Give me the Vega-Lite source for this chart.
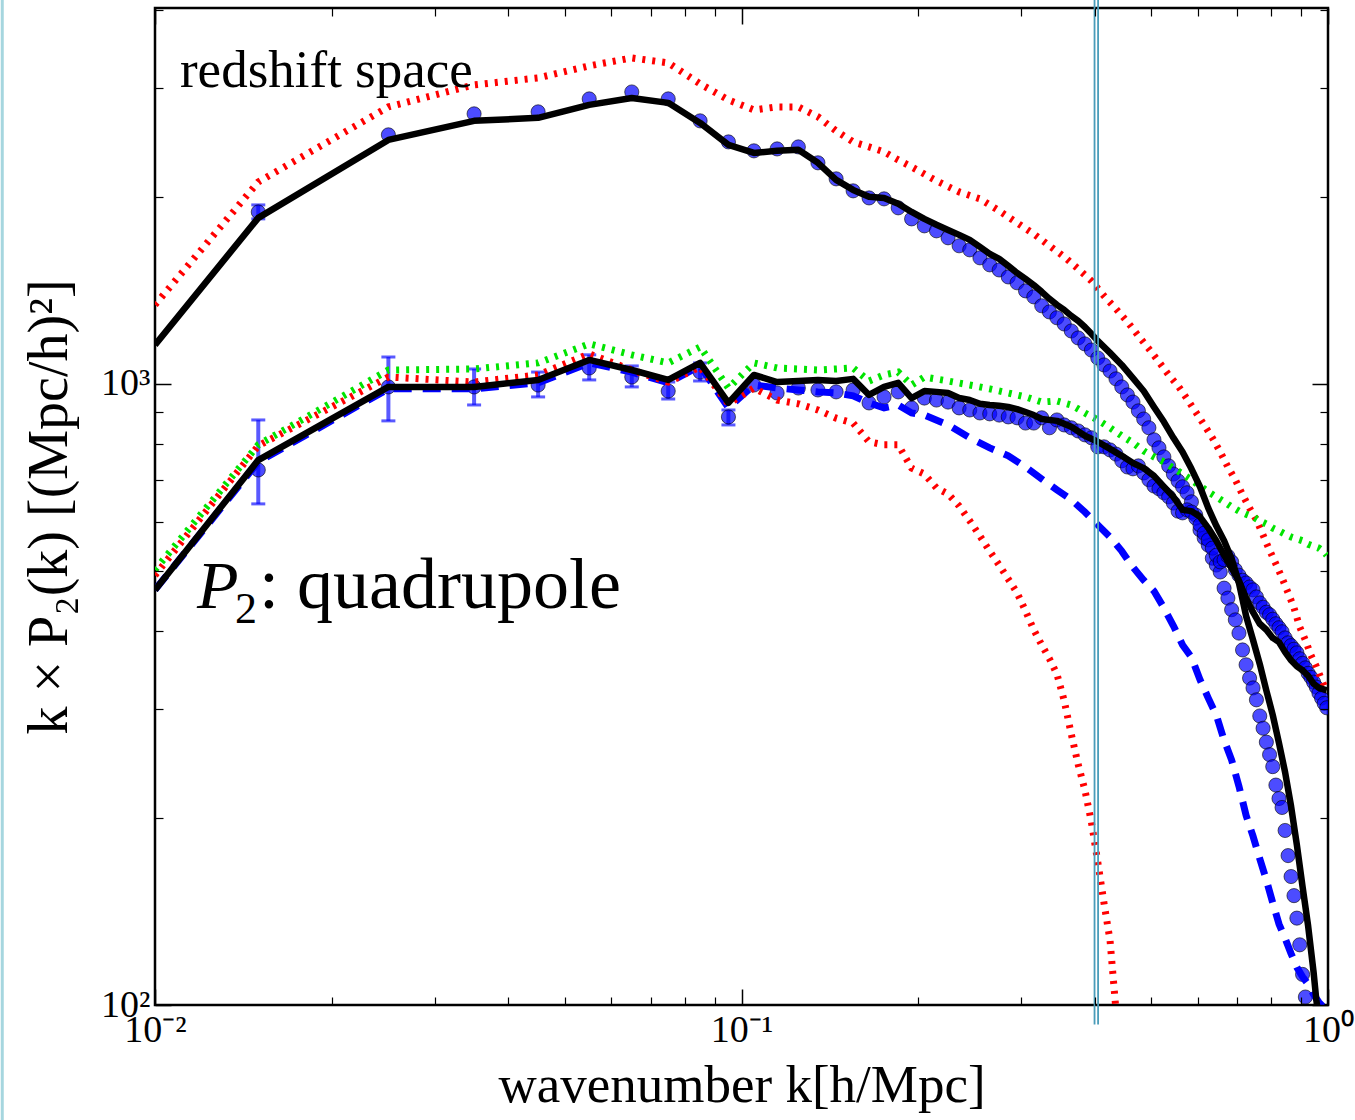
{
"$schema": "https://vega.github.io/schema/vega-lite/v6.json",
"width": 1173, "height": 997,
"padding": {"left": 155, "top": 8, "right": 27, "bottom": 115},
"autosize": {"type": "none"},
"background": "white",
"config": {"view": {"stroke": "black", "strokeWidth": 2.5}},
"datasets": {
"pts": [
{"group":"upper","k":0.015,"v":1892},{"group":"upper","k":0.025,"v":2518},{"group":"upper","k":0.035,"v":2722},{"group":"upper","k":0.045,"v":2742},{"group":"upper","k":0.055,"v":2877},{"group":"upper","k":0.065,"v":2952},{"group":"upper","k":0.075,"v":2877},{"group":"upper","k":0.085,"v":2652},{"group":"upper","k":0.095,"v":2453},{"group":"upper","k":0.105,"v":2373},{"group":"upper","k":0.115,"v":2390},{"group":"upper","k":0.125,"v":2408},{"group":"upper","k":0.135,"v":2270},{"group":"upper","k":0.145,"v":2139},{"group":"upper","k":0.155,"v":2046},{"group":"upper","k":0.165,"v":1993},{"group":"upper","k":0.175,"v":1986},{"group":"upper","k":0.185,"v":1921},{"group":"upper","k":0.195,"v":1844},{"group":"upper","k":0.205,"v":1797},{"group":"upper","k":0.215,"v":1764},{"group":"upper","k":0.225,"v":1719},{"group":"upper","k":0.235,"v":1669},{"group":"upper","k":0.245,"v":1644},{"group":"upper","k":0.255,"v":1596},{"group":"upper","k":0.265,"v":1555},{"group":"upper","k":0.275,"v":1526},{"group":"upper","k":0.285,"v":1487},{"group":"upper","k":0.295,"v":1455},{"group":"upper","k":0.305,"v":1412},{"group":"upper","k":0.315,"v":1381},{"group":"upper","k":0.325,"v":1336},{"group":"upper","k":0.335,"v":1306},{"group":"upper","k":0.345,"v":1278},{"group":"upper","k":0.355,"v":1249},{"group":"upper","k":0.365,"v":1217},{"group":"upper","k":0.375,"v":1186},{"group":"upper","k":0.385,"v":1160},{"group":"upper","k":0.395,"v":1134},{"group":"upper","k":0.405,"v":1101},{"group":"upper","k":0.415,"v":1073},{"group":"upper","k":0.425,"v":1049},{"group":"upper","k":0.435,"v":1019},{"group":"upper","k":0.445,"v":989},{"group":"upper","k":0.455,"v":960},{"group":"upper","k":0.465,"v":935},{"group":"upper","k":0.475,"v":905},{"group":"upper","k":0.485,"v":878},{"group":"upper","k":0.495,"v":850},{"group":"upper","k":0.505,"v":813},{"group":"upper","k":0.515,"v":789},{"group":"upper","k":0.525,"v":763},{"group":"upper","k":0.535,"v":738},{"group":"upper","k":0.545,"v":716},{"group":"upper","k":0.555,"v":698},{"group":"upper","k":0.565,"v":683},{"group":"upper","k":0.575,"v":668},{"group":"upper","k":0.585,"v":646},{"group":"upper","k":0.595,"v":615},{"group":"upper","k":0.605,"v":582},{"group":"upper","k":0.615,"v":565},{"group":"upper","k":0.625,"v":550},{"group":"upper","k":0.635,"v":524},{"group":"upper","k":0.645,"v":511},{"group":"upper","k":0.655,"v":498},{"group":"upper","k":0.665,"v":469},{"group":"upper","k":0.675,"v":452},{"group":"upper","k":0.685,"v":433},{"group":"upper","k":0.695,"v":417},{"group":"upper","k":0.705,"v":397},{"group":"upper","k":0.715,"v":373},{"group":"upper","k":0.725,"v":353},{"group":"upper","k":0.735,"v":336},{"group":"upper","k":0.745,"v":324},{"group":"upper","k":0.755,"v":310},{"group":"upper","k":0.765,"v":292},{"group":"upper","k":0.775,"v":279},{"group":"upper","k":0.785,"v":265},{"group":"upper","k":0.795,"v":253},{"group":"upper","k":0.805,"v":242},{"group":"upper","k":0.815,"v":226},{"group":"upper","k":0.825,"v":215},{"group":"upper","k":0.835,"v":208},{"group":"upper","k":0.845,"v":191},{"group":"upper","k":0.855,"v":174},{"group":"upper","k":0.865,"v":161},{"group":"upper","k":0.875,"v":150},{"group":"upper","k":0.885,"v":138},{"group":"upper","k":0.895,"v":125},{"group":"upper","k":0.905,"v":112},{"group":"upper","k":0.915,"v":103},
{"group":"lower","k":0.015,"v":727},{"group":"lower","k":0.025,"v":989},{"group":"lower","k":0.035,"v":989},{"group":"lower","k":0.045,"v":996},{"group":"lower","k":0.055,"v":1061},{"group":"lower","k":0.065,"v":1026},{"group":"lower","k":0.075,"v":974},{"group":"lower","k":0.085,"v":1045},{"group":"lower","k":0.095,"v":885},{"group":"lower","k":0.105,"v":996},{"group":"lower","k":0.115,"v":967},{"group":"lower","k":0.125,"v":985},{"group":"lower","k":0.135,"v":978},{"group":"lower","k":0.145,"v":971},{"group":"lower","k":0.155,"v":978},{"group":"lower","k":0.165,"v":932},{"group":"lower","k":0.175,"v":953},{"group":"lower","k":0.185,"v":971},{"group":"lower","k":0.195,"v":915},{"group":"lower","k":0.205,"v":949},{"group":"lower","k":0.215,"v":942},{"group":"lower","k":0.225,"v":935},{"group":"lower","k":0.235,"v":915},{"group":"lower","k":0.245,"v":908},{"group":"lower","k":0.255,"v":898},{"group":"lower","k":0.265,"v":895},{"group":"lower","k":0.275,"v":891},{"group":"lower","k":0.285,"v":885},{"group":"lower","k":0.295,"v":882},{"group":"lower","k":0.305,"v":865},{"group":"lower","k":0.315,"v":865},{"group":"lower","k":0.325,"v":882},{"group":"lower","k":0.335,"v":850},{"group":"lower","k":0.345,"v":875},{"group":"lower","k":0.355,"v":859},{"group":"lower","k":0.365,"v":850},{"group":"lower","k":0.375,"v":840},{"group":"lower","k":0.385,"v":828},{"group":"lower","k":0.395,"v":819},{"group":"lower","k":0.405,"v":792},{"group":"lower","k":0.415,"v":792},{"group":"lower","k":0.425,"v":783},{"group":"lower","k":0.435,"v":771},{"group":"lower","k":0.445,"v":752},{"group":"lower","k":0.455,"v":735},{"group":"lower","k":0.465,"v":730},{"group":"lower","k":0.475,"v":738},{"group":"lower","k":0.485,"v":719},{"group":"lower","k":0.495,"v":701},{"group":"lower","k":0.505,"v":685},{"group":"lower","k":0.515,"v":678},{"group":"lower","k":0.525,"v":668},{"group":"lower","k":0.535,"v":658},{"group":"lower","k":0.545,"v":643},{"group":"lower","k":0.555,"v":624},{"group":"lower","k":0.565,"v":620},{"group":"lower","k":0.575,"v":627},{"group":"lower","k":0.585,"v":622},{"group":"lower","k":0.595,"v":608},{"group":"lower","k":0.605,"v":593},{"group":"lower","k":0.615,"v":575},{"group":"lower","k":0.625,"v":561},{"group":"lower","k":0.635,"v":544},{"group":"lower","k":0.645,"v":530},{"group":"lower","k":0.655,"v":517},{"group":"lower","k":0.665,"v":521},{"group":"lower","k":0.675,"v":528},{"group":"lower","k":0.685,"v":517},{"group":"lower","k":0.695,"v":502},{"group":"lower","k":0.705,"v":492},{"group":"lower","k":0.715,"v":483},{"group":"lower","k":0.725,"v":478},{"group":"lower","k":0.735,"v":471},{"group":"lower","k":0.745,"v":466},{"group":"lower","k":0.755,"v":454},{"group":"lower","k":0.765,"v":444},{"group":"lower","k":0.775,"v":437},{"group":"lower","k":0.785,"v":429},{"group":"lower","k":0.795,"v":425},{"group":"lower","k":0.805,"v":418},{"group":"lower","k":0.815,"v":411},{"group":"lower","k":0.825,"v":405},{"group":"lower","k":0.835,"v":399},{"group":"lower","k":0.845,"v":390},{"group":"lower","k":0.855,"v":383},{"group":"lower","k":0.865,"v":379},{"group":"lower","k":0.875,"v":374},{"group":"lower","k":0.885,"v":369},{"group":"lower","k":0.895,"v":361},{"group":"lower","k":0.905,"v":355},{"group":"lower","k":0.915,"v":349},{"group":"lower","k":0.925,"v":342},{"group":"lower","k":0.935,"v":337},{"group":"lower","k":0.945,"v":331},{"group":"lower","k":0.955,"v":325},{"group":"lower","k":0.965,"v":318},{"group":"lower","k":0.975,"v":312},{"group":"lower","k":0.985,"v":306},{"group":"lower","k":0.995,"v":301}
],
"err": [
{"k":0.015,"lo":1844,"hi":1942},
{"k":0.015,"lo":641,"hi":875},{"k":0.025,"lo":872,"hi":1105},{"k":0.035,"lo":925,"hi":1057},{"k":0.045,"lo":953,"hi":1045},{"k":0.055,"lo":1015,"hi":1114},{"k":0.065,"lo":989,"hi":1069},{"k":0.075,"lo":946,"hi":1007},{"k":0.085,"lo":1011,"hi":1081},{"k":0.095,"lo":859,"hi":908}
],
"lines": [
{"s":"upper_red","k":0.01,"v":1341},{"s":"upper_red","k":0.015,"v":2115},{"s":"upper_red","k":0.025,"v":2793},{"s":"upper_red","k":0.035,"v":3030},{"s":"upper_red","k":0.045,"v":3110},{"s":"upper_red","k":0.055,"v":3252},{"s":"upper_red","k":0.065,"v":3349},{"s":"upper_red","k":0.075,"v":3288},{"s":"upper_red","k":0.085,"v":3042},{"s":"upper_red","k":0.095,"v":2866},{"s":"upper_red","k":0.105,"v":2762},{"s":"upper_red","k":0.115,"v":2793},{"s":"upper_red","k":0.125,"v":2793},{"s":"upper_red","k":0.135,"v":2692},{"s":"upper_red","k":0.145,"v":2555},{"s":"upper_red","k":0.155,"v":2453},{"s":"upper_red","k":0.165,"v":2408},{"s":"upper_red","k":0.175,"v":2364},{"s":"upper_red","k":0.185,"v":2295},{"s":"upper_red","k":0.195,"v":2236},{"s":"upper_red","k":0.215,"v":2123},{"s":"upper_red","k":0.235,"v":2038},{"s":"upper_red","k":0.255,"v":1986},{"s":"upper_red","k":0.275,"v":1900},{"s":"upper_red","k":0.295,"v":1817},{"s":"upper_red","k":0.315,"v":1744},{"s":"upper_red","k":0.335,"v":1669},{"s":"upper_red","k":0.355,"v":1602},{"s":"upper_red","k":0.375,"v":1532},{"s":"upper_red","k":0.395,"v":1465},{"s":"upper_red","k":0.415,"v":1386},{"s":"upper_red","k":0.435,"v":1321},{"s":"upper_red","k":0.455,"v":1259},{"s":"upper_red","k":0.475,"v":1195},{"s":"upper_red","k":0.495,"v":1139},{"s":"upper_red","k":0.515,"v":1085},{"s":"upper_red","k":0.535,"v":1034},{"s":"upper_red","k":0.555,"v":993},{"s":"upper_red","k":0.575,"v":946},{"s":"upper_red","k":0.595,"v":901},{"s":"upper_red","k":0.615,"v":859},{"s":"upper_red","k":0.635,"v":819},{"s":"upper_red","k":0.655,"v":777},{"s":"upper_red","k":0.675,"v":735},{"s":"upper_red","k":0.695,"v":701},{"s":"upper_red","k":0.715,"v":663},{"s":"upper_red","k":0.735,"v":631},{"s":"upper_red","k":0.755,"v":604},{"s":"upper_red","k":0.775,"v":571},{"s":"upper_red","k":0.795,"v":540},{"s":"upper_red","k":0.815,"v":513},{"s":"upper_red","k":0.835,"v":487},{"s":"upper_red","k":0.855,"v":461},{"s":"upper_red","k":0.875,"v":436},{"s":"upper_red","k":0.895,"v":406},{"s":"upper_red","k":0.915,"v":387},{"s":"upper_red","k":0.935,"v":366},{"s":"upper_red","k":0.955,"v":351},{"s":"upper_red","k":0.975,"v":334},{"s":"upper_red","k":0.995,"v":319},
{"s":"upper_black","k":0.01,"v":1156},{"s":"upper_black","k":0.015,"v":1851},{"s":"upper_black","k":0.025,"v":2471},{"s":"upper_black","k":0.035,"v":2652},{"s":"upper_black","k":0.045,"v":2682},{"s":"upper_black","k":0.055,"v":2814},{"s":"upper_black","k":0.065,"v":2887},{"s":"upper_black","k":0.075,"v":2835},{"s":"upper_black","k":0.085,"v":2632},{"s":"upper_black","k":0.095,"v":2426},{"s":"upper_black","k":0.105,"v":2355},{"s":"upper_black","k":0.115,"v":2373},{"s":"upper_black","k":0.125,"v":2382},{"s":"upper_black","k":0.135,"v":2270},{"s":"upper_black","k":0.145,"v":2131},{"s":"upper_black","k":0.155,"v":2053},{"s":"upper_black","k":0.165,"v":2001},{"s":"upper_black","k":0.175,"v":1993},{"s":"upper_black","k":0.185,"v":1950},{"s":"upper_black","k":0.195,"v":1892},{"s":"upper_black","k":0.205,"v":1844},{"s":"upper_black","k":0.215,"v":1804},{"s":"upper_black","k":0.225,"v":1770},{"s":"upper_black","k":0.235,"v":1738},{"s":"upper_black","k":0.245,"v":1706},{"s":"upper_black","k":0.255,"v":1662},{"s":"upper_black","k":0.265,"v":1620},{"s":"upper_black","k":0.275,"v":1590},{"s":"upper_black","k":0.285,"v":1549},{"s":"upper_black","k":0.295,"v":1509},{"s":"upper_black","k":0.305,"v":1476},{"s":"upper_black","k":0.315,"v":1443},{"s":"upper_black","k":0.325,"v":1407},{"s":"upper_black","k":0.335,"v":1371},{"s":"upper_black","k":0.345,"v":1341},{"s":"upper_black","k":0.355,"v":1316},{"s":"upper_black","k":0.365,"v":1287},{"s":"upper_black","k":0.375,"v":1263},{"s":"upper_black","k":0.385,"v":1235},{"s":"upper_black","k":0.395,"v":1204},{"s":"upper_black","k":0.405,"v":1173},{"s":"upper_black","k":0.425,"v":1122},{"s":"upper_black","k":0.445,"v":1073},{"s":"upper_black","k":0.465,"v":1022},{"s":"upper_black","k":0.485,"v":974},{"s":"upper_black","k":0.505,"v":918},{"s":"upper_black","k":0.525,"v":869},{"s":"upper_black","k":0.545,"v":819},{"s":"upper_black","k":0.565,"v":777},{"s":"upper_black","k":0.585,"v":730},{"s":"upper_black","k":0.605,"v":683},{"s":"upper_black","k":0.625,"v":631},{"s":"upper_black","k":0.645,"v":591},{"s":"upper_black","k":0.665,"v":559},{"s":"upper_black","k":0.685,"v":523},{"s":"upper_black","k":0.705,"v":478},{"s":"upper_black","k":0.725,"v":423},{"s":"upper_black","k":0.745,"v":387},{"s":"upper_black","k":0.765,"v":354},{"s":"upper_black","k":0.785,"v":321},{"s":"upper_black","k":0.805,"v":293},{"s":"upper_black","k":0.825,"v":264},{"s":"upper_black","k":0.845,"v":237},{"s":"upper_black","k":0.865,"v":209},{"s":"upper_black","k":0.885,"v":181},{"s":"upper_black","k":0.905,"v":155},{"s":"upper_black","k":0.925,"v":134},{"s":"upper_black","k":0.945,"v":113},{"s":"upper_black","k":0.955,"v":102},{"s":"upper_black","k":0.965,"v":95},
{"s":"lower_red","k":0.01,"v":492},{"s":"lower_red","k":0.015,"v":795},{"s":"lower_red","k":0.025,"v":1026},{"s":"lower_red","k":0.035,"v":1007},{"s":"lower_red","k":0.045,"v":1034},{"s":"lower_red","k":0.055,"v":1118},{"s":"lower_red","k":0.065,"v":1053},{"s":"lower_red","k":0.075,"v":1007},{"s":"lower_red","k":0.085,"v":1065},{"s":"lower_red","k":0.095,"v":929},{"s":"lower_red","k":0.105,"v":985},{"s":"lower_red","k":0.115,"v":942},{"s":"lower_red","k":0.125,"v":929},{"s":"lower_red","k":0.135,"v":908},{"s":"lower_red","k":0.145,"v":881},{"s":"lower_red","k":0.155,"v":865},{"s":"lower_red","k":0.165,"v":807},{"s":"lower_red","k":0.175,"v":798},{"s":"lower_red","k":0.185,"v":798},{"s":"lower_red","k":0.195,"v":732},{"s":"lower_red","k":0.205,"v":716},{"s":"lower_red","k":0.215,"v":680},{"s":"lower_red","k":0.225,"v":665},{"s":"lower_red","k":0.235,"v":636},{"s":"lower_red","k":0.245,"v":602},{"s":"lower_red","k":0.255,"v":569},{"s":"lower_red","k":0.265,"v":538},{"s":"lower_red","k":0.275,"v":511},{"s":"lower_red","k":0.285,"v":485},{"s":"lower_red","k":0.295,"v":461},{"s":"lower_red","k":0.305,"v":431},{"s":"lower_red","k":0.315,"v":402},{"s":"lower_red","k":0.325,"v":380},{"s":"lower_red","k":0.335,"v":361},{"s":"lower_red","k":0.345,"v":341},{"s":"lower_red","k":0.355,"v":309},{"s":"lower_red","k":0.365,"v":273},{"s":"lower_red","k":0.375,"v":244},{"s":"lower_red","k":0.385,"v":222},{"s":"lower_red","k":0.395,"v":197},{"s":"lower_red","k":0.405,"v":170},{"s":"lower_red","k":0.415,"v":146},{"s":"lower_red","k":0.425,"v":127},{"s":"lower_red","k":0.435,"v":98},
{"s":"lower_green","k":0.01,"v":502},{"s":"lower_green","k":0.015,"v":798},{"s":"lower_green","k":0.025,"v":1053},{"s":"lower_green","k":0.035,"v":1057},{"s":"lower_green","k":0.045,"v":1081},{"s":"lower_green","k":0.055,"v":1160},{"s":"lower_green","k":0.065,"v":1114},{"s":"lower_green","k":0.075,"v":1081},{"s":"lower_green","k":0.085,"v":1147},{"s":"lower_green","k":0.095,"v":985},{"s":"lower_green","k":0.105,"v":1081},{"s":"lower_green","k":0.115,"v":1061},{"s":"lower_green","k":0.125,"v":1057},{"s":"lower_green","k":0.135,"v":1053},{"s":"lower_green","k":0.145,"v":1057},{"s":"lower_green","k":0.155,"v":1061},{"s":"lower_green","k":0.165,"v":1011},{"s":"lower_green","k":0.175,"v":1034},{"s":"lower_green","k":0.185,"v":1045},{"s":"lower_green","k":0.195,"v":996},{"s":"lower_green","k":0.205,"v":1026},{"s":"lower_green","k":0.225,"v":1011},{"s":"lower_green","k":0.245,"v":996},{"s":"lower_green","k":0.265,"v":982},{"s":"lower_green","k":0.285,"v":967},{"s":"lower_green","k":0.305,"v":953},{"s":"lower_green","k":0.325,"v":935},{"s":"lower_green","k":0.345,"v":939},{"s":"lower_green","k":0.365,"v":925},{"s":"lower_green","k":0.385,"v":898},{"s":"lower_green","k":0.405,"v":875},{"s":"lower_green","k":0.425,"v":850},{"s":"lower_green","k":0.445,"v":825},{"s":"lower_green","k":0.465,"v":804},{"s":"lower_green","k":0.485,"v":780},{"s":"lower_green","k":0.505,"v":763},{"s":"lower_green","k":0.525,"v":749},{"s":"lower_green","k":0.545,"v":732},{"s":"lower_green","k":0.565,"v":716},{"s":"lower_green","k":0.585,"v":701},{"s":"lower_green","k":0.605,"v":685},{"s":"lower_green","k":0.625,"v":670},{"s":"lower_green","k":0.645,"v":658},{"s":"lower_green","k":0.665,"v":646},{"s":"lower_green","k":0.685,"v":634},{"s":"lower_green","k":0.705,"v":624},{"s":"lower_green","k":0.725,"v":617},{"s":"lower_green","k":0.745,"v":611},{"s":"lower_green","k":0.765,"v":602},{"s":"lower_green","k":0.785,"v":595},{"s":"lower_green","k":0.805,"v":586},{"s":"lower_green","k":0.825,"v":580},{"s":"lower_green","k":0.845,"v":573},{"s":"lower_green","k":0.865,"v":567},{"s":"lower_green","k":0.885,"v":563},{"s":"lower_green","k":0.905,"v":559},{"s":"lower_green","k":0.925,"v":552},{"s":"lower_green","k":0.945,"v":548},{"s":"lower_green","k":0.965,"v":544},{"s":"lower_green","k":0.985,"v":536},{"s":"lower_green","k":0.995,"v":530},
{"s":"lower_blue","k":0.01,"v":466},{"s":"lower_blue","k":0.015,"v":749},{"s":"lower_blue","k":0.025,"v":982},{"s":"lower_blue","k":0.035,"v":982},{"s":"lower_blue","k":0.045,"v":1004},{"s":"lower_blue","k":0.055,"v":1081},{"s":"lower_blue","k":0.065,"v":1045},{"s":"lower_blue","k":0.075,"v":1004},{"s":"lower_blue","k":0.085,"v":1069},{"s":"lower_blue","k":0.095,"v":915},{"s":"lower_blue","k":0.105,"v":996},{"s":"lower_blue","k":0.115,"v":985},{"s":"lower_blue","k":0.125,"v":978},{"s":"lower_blue","k":0.135,"v":971},{"s":"lower_blue","k":0.145,"v":967},{"s":"lower_blue","k":0.155,"v":957},{"s":"lower_blue","k":0.165,"v":932},{"s":"lower_blue","k":0.175,"v":915},{"s":"lower_blue","k":0.185,"v":925},{"s":"lower_blue","k":0.195,"v":898},{"s":"lower_blue","k":0.205,"v":891},{"s":"lower_blue","k":0.225,"v":859},{"s":"lower_blue","k":0.245,"v":819},{"s":"lower_blue","k":0.265,"v":789},{"s":"lower_blue","k":0.285,"v":766},{"s":"lower_blue","k":0.305,"v":735},{"s":"lower_blue","k":0.325,"v":703},{"s":"lower_blue","k":0.345,"v":675},{"s":"lower_blue","k":0.365,"v":651},{"s":"lower_blue","k":0.385,"v":622},{"s":"lower_blue","k":0.405,"v":593},{"s":"lower_blue","k":0.425,"v":567},{"s":"lower_blue","k":0.445,"v":538},{"s":"lower_blue","k":0.465,"v":507},{"s":"lower_blue","k":0.485,"v":483},{"s":"lower_blue","k":0.505,"v":464},{"s":"lower_blue","k":0.525,"v":436},{"s":"lower_blue","k":0.545,"v":408},{"s":"lower_blue","k":0.565,"v":380},{"s":"lower_blue","k":0.585,"v":363},{"s":"lower_blue","k":0.605,"v":334},{"s":"lower_blue","k":0.625,"v":312},{"s":"lower_blue","k":0.645,"v":293},{"s":"lower_blue","k":0.665,"v":267},{"s":"lower_blue","k":0.685,"v":248},{"s":"lower_blue","k":0.705,"v":225},{"s":"lower_blue","k":0.725,"v":202},{"s":"lower_blue","k":0.745,"v":187},{"s":"lower_blue","k":0.765,"v":172},{"s":"lower_blue","k":0.785,"v":159},{"s":"lower_blue","k":0.805,"v":146},{"s":"lower_blue","k":0.825,"v":135},{"s":"lower_blue","k":0.845,"v":128},{"s":"lower_blue","k":0.865,"v":121},{"s":"lower_blue","k":0.885,"v":115},{"s":"lower_blue","k":0.905,"v":111},{"s":"lower_blue","k":0.925,"v":108},{"s":"lower_blue","k":0.945,"v":104},{"s":"lower_blue","k":0.965,"v":101},{"s":"lower_blue","k":0.985,"v":99},
{"s":"lower_black","k":0.01,"v":466},{"s":"lower_black","k":0.015,"v":754},{"s":"lower_black","k":0.025,"v":989},{"s":"lower_black","k":0.035,"v":989},{"s":"lower_black","k":0.045,"v":1015},{"s":"lower_black","k":0.055,"v":1093},{"s":"lower_black","k":0.065,"v":1053},{"s":"lower_black","k":0.075,"v":1015},{"s":"lower_black","k":0.085,"v":1081},{"s":"lower_black","k":0.095,"v":932},{"s":"lower_black","k":0.105,"v":1034},{"s":"lower_black","k":0.115,"v":1007},{"s":"lower_black","k":0.125,"v":1011},{"s":"lower_black","k":0.135,"v":1015},{"s":"lower_black","k":0.145,"v":1011},{"s":"lower_black","k":0.155,"v":1019},{"s":"lower_black","k":0.165,"v":960},{"s":"lower_black","k":0.175,"v":989},{"s":"lower_black","k":0.185,"v":1004},{"s":"lower_black","k":0.195,"v":949},{"s":"lower_black","k":0.205,"v":974},{"s":"lower_black","k":0.215,"v":971},{"s":"lower_black","k":0.225,"v":967},{"s":"lower_black","k":0.235,"v":949},{"s":"lower_black","k":0.245,"v":942},{"s":"lower_black","k":0.255,"v":929},{"s":"lower_black","k":0.265,"v":925},{"s":"lower_black","k":0.275,"v":922},{"s":"lower_black","k":0.285,"v":918},{"s":"lower_black","k":0.295,"v":911},{"s":"lower_black","k":0.305,"v":901},{"s":"lower_black","k":0.315,"v":891},{"s":"lower_black","k":0.325,"v":878},{"s":"lower_black","k":0.345,"v":872},{"s":"lower_black","k":0.365,"v":853},{"s":"lower_black","k":0.385,"v":825},{"s":"lower_black","k":0.405,"v":807},{"s":"lower_black","k":0.425,"v":786},{"s":"lower_black","k":0.445,"v":766},{"s":"lower_black","k":0.465,"v":746},{"s":"lower_black","k":0.485,"v":732},{"s":"lower_black","k":0.505,"v":711},{"s":"lower_black","k":0.525,"v":683},{"s":"lower_black","k":0.545,"v":658},{"s":"lower_black","k":0.565,"v":627},{"s":"lower_black","k":0.585,"v":624},{"s":"lower_black","k":0.605,"v":611},{"s":"lower_black","k":0.625,"v":586},{"s":"lower_black","k":0.645,"v":559},{"s":"lower_black","k":0.665,"v":530},{"s":"lower_black","k":0.685,"v":505},{"s":"lower_black","k":0.705,"v":482},{"s":"lower_black","k":0.725,"v":452},{"s":"lower_black","k":0.745,"v":429},{"s":"lower_black","k":0.765,"v":411},{"s":"lower_black","k":0.785,"v":402},{"s":"lower_black","k":0.805,"v":390},{"s":"lower_black","k":0.825,"v":384},{"s":"lower_black","k":0.845,"v":370},{"s":"lower_black","k":0.865,"v":359},{"s":"lower_black","k":0.885,"v":351},{"s":"lower_black","k":0.905,"v":346},{"s":"lower_black","k":0.925,"v":339},{"s":"lower_black","k":0.945,"v":329},{"s":"lower_black","k":0.965,"v":324},{"s":"lower_black","k":0.995,"v":321}
],
"vlines": [{"k":0.3999},{"k":0.4055}],
"frame": [{"k":0.00549}],
"notes": [
{"k":0.01103,"v":3008,"text":"redshift space"},
{"k":0.011794,"v":436,"text":"P"},
{"k":0.011794,"v":436,"text":"2"},
{"k":0.011794,"v":436,"text":": quadrupole"}
]
},
"layer": [
{"data":{"name":"err"},"mark":{"type":"rule","color":"#0000ff","opacity":0.65,"strokeWidth":4},
 "encoding":{"x":{"field":"k","type":"quantitative","scale":{"type":"log","domain":[0.01,1],"nice":false},"axis":null},
 "y":{"field":"lo","type":"quantitative","scale":{"type":"log","domain":[100,4030],"nice":false},"axis":null},"y2":{"field":"hi"}}},
{"data":{"name":"err"},"mark":{"type":"tick","orient":"horizontal","color":"#0000ff","opacity":0.65,"size":14,"thickness":3},
 "encoding":{"x":{"field":"k","type":"quantitative","scale":{"type":"log","domain":[0.01,1],"nice":false},"axis":null},
 "y":{"field":"lo","type":"quantitative","scale":{"type":"log","domain":[100,4030],"nice":false},"axis":null}}},
{"data":{"name":"err"},"mark":{"type":"tick","orient":"horizontal","color":"#0000ff","opacity":0.65,"size":14,"thickness":3},
 "encoding":{"x":{"field":"k","type":"quantitative","scale":{"type":"log","domain":[0.01,1],"nice":false},"axis":null},
 "y":{"field":"hi","type":"quantitative","scale":{"type":"log","domain":[100,4030],"nice":false},"axis":null}}},
{"data":{"name":"pts"},"mark":{"type":"point","filled":true,"fill":"#0000ff","fillOpacity":0.7,"stroke":"#000000","strokeOpacity":0.6,"strokeWidth":1,"size":200,"clip":true},
 "encoding":{"x":{"field":"k","type":"quantitative","scale":{"type":"log","domain":[0.01,1],"nice":false},
   "axis":{"orient":"bottom","values":[0.01,0.1,1],"labelExpr":"datum.value < 0.05 ? '10⁻²' : (datum.value < 0.5 ? '10⁻¹' : '10⁰')","ticks":false,"domain":false,"grid":false,"labelFont":"Liberation Serif","labelFontSize":38,"labelColor":"black","labelPadding":6,"labelFlush":false,"labelOverlap":false,"labelBound":false,"title":"wavenumber k[h/Mpc]","titleFont":"Liberation Serif","titleFontSize":53,"titleFontWeight":"normal","titleColor":"black","titlePadding":10}},
 "y":{"field":"v","type":"quantitative","scale":{"type":"log","domain":[100,4030],"nice":false},
   "axis":{"orient":"left","values":[100,1000],"labelExpr":"datum.value < 500 ? '10²' : '10³'","ticks":false,"domain":false,"grid":false,"labelFont":"Liberation Serif","labelFontSize":38,"labelColor":"black","labelPadding":5,"labelFlush":false,"labelOverlap":false,"title":"k × P₂(k) [(Mpc/h)²]","titleFont":"Liberation Serif","titleFontSize":56,"titleFontWeight":"normal","titleColor":"black","titlePadding":22}}}},
{"data":{"name":"lines"},"transform":[{"filter":"datum.s == 'lower_blue'"}],"mark":{"type":"line","color":"#0000ff","strokeWidth":7,"strokeDash":[18,11],"clip":true},
 "encoding":{"x":{"field":"k","type":"quantitative","scale":{"type":"log","domain":[0.01,1],"nice":false},
   "axis":{"orient":"bottom","values":[0.01,0.1,1],"labels":false,"domain":false,"grid":false,"tickSize":-16,"tickWidth":1.5,"tickColor":"black","title":null,"zindex":1}},
 "y":{"field":"v","type":"quantitative","scale":{"type":"log","domain":[100,4030],"nice":false},
   "axis":{"orient":"left","values":[100,1000],"labels":false,"domain":false,"grid":false,"tickSize":-16,"tickWidth":1.5,"tickColor":"black","title":null,"zindex":1}}}},
{"data":{"name":"lines"},"transform":[{"filter":"datum.s == 'upper_red'"}],"mark":{"type":"line","color":"#ff0000","strokeWidth":7,"strokeDash":[3,7],"clip":true},
 "encoding":{"x":{"field":"k","type":"quantitative","scale":{"type":"log","domain":[0.01,1],"nice":false},
   "axis":{"orient":"bottom","values":[0.02,0.03,0.04,0.05,0.06,0.07,0.08,0.09,0.2,0.3,0.4,0.5,0.6,0.7,0.8,0.9],"labels":false,"domain":false,"grid":false,"tickSize":-8,"tickWidth":1.2,"tickColor":"black","title":null,"zindex":1}},
 "y":{"field":"v","type":"quantitative","scale":{"type":"log","domain":[100,4030],"nice":false},
   "axis":{"orient":"left","values":[200,300,400,500,600,700,800,900,2000,3000,4000],"labels":false,"domain":false,"grid":false,"tickSize":-8,"tickWidth":1.2,"tickColor":"black","title":null,"zindex":1}}}},
{"data":{"name":"lines"},"transform":[{"filter":"datum.s == 'lower_red'"}],"mark":{"type":"line","color":"#ff0000","strokeWidth":7,"strokeDash":[3,7],"clip":true},
 "encoding":{"x":{"field":"k","type":"quantitative","scale":{"type":"log","domain":[0.01,1],"nice":false},
   "axis":{"orient":"top","values":[0.01,0.1,1],"labels":false,"domain":false,"grid":false,"tickSize":-16,"tickWidth":1.5,"tickColor":"black","title":null,"zindex":1}},
 "y":{"field":"v","type":"quantitative","scale":{"type":"log","domain":[100,4030],"nice":false},
   "axis":{"orient":"right","values":[100,1000],"labels":false,"domain":false,"grid":false,"tickSize":-16,"tickWidth":1.5,"tickColor":"black","title":null,"zindex":1}}}},
{"data":{"name":"lines"},"transform":[{"filter":"datum.s == 'lower_green'"}],"mark":{"type":"line","color":"#00e400","strokeWidth":7,"strokeDash":[3,7],"clip":true},
 "encoding":{"x":{"field":"k","type":"quantitative","scale":{"type":"log","domain":[0.01,1],"nice":false},
   "axis":{"orient":"top","values":[0.02,0.03,0.04,0.05,0.06,0.07,0.08,0.09,0.2,0.3,0.4,0.5,0.6,0.7,0.8,0.9],"labels":false,"domain":false,"grid":false,"tickSize":-8,"tickWidth":1.2,"tickColor":"black","title":null,"zindex":1}},
 "y":{"field":"v","type":"quantitative","scale":{"type":"log","domain":[100,4030],"nice":false},
   "axis":{"orient":"right","values":[200,300,400,500,600,700,800,900,2000,3000,4000],"labels":false,"domain":false,"grid":false,"tickSize":-8,"tickWidth":1.2,"tickColor":"black","title":null,"zindex":1}}}},
{"data":{"name":"lines"},"transform":[{"filter":"datum.s == 'upper_black'"}],"mark":{"type":"line","color":"#000000","strokeWidth":6.5,"strokeJoin":"round","clip":true},
 "encoding":{"x":{"field":"k","type":"quantitative","scale":{"type":"log","domain":[0.01,1],"nice":false},"axis":null},
 "y":{"field":"v","type":"quantitative","scale":{"type":"log","domain":[100,4030],"nice":false},"axis":null}}},
{"data":{"name":"lines"},"transform":[{"filter":"datum.s == 'lower_black'"}],"mark":{"type":"line","color":"#000000","strokeWidth":6.5,"strokeJoin":"round","clip":true},
 "encoding":{"x":{"field":"k","type":"quantitative","scale":{"type":"log","domain":[0.01,1],"nice":false},"axis":null},
 "y":{"field":"v","type":"quantitative","scale":{"type":"log","domain":[100,4030],"nice":false},"axis":null}}},
{"data":{"name":"vlines"},"mark":{"type":"rule","color":"#4a9cb9","strokeWidth":1.8},
 "encoding":{"x":{"field":"k","type":"quantitative","scale":{"type":"log","domain":[0.01,1],"nice":false},"axis":null},
 "y":{"datum":4152,"type":"quantitative","scale":{"type":"log","domain":[100,4030],"nice":false},"axis":null},"y2":{"datum":93}}},
{"data":{"name":"frame"},"mark":{"type":"rule","color":"#a6d6df","strokeWidth":3},
 "encoding":{"x":{"field":"k","type":"quantitative","scale":{"type":"log","domain":[0.01,1],"nice":false},"axis":null},
 "y":{"datum":4152,"type":"quantitative","scale":{"type":"log","domain":[100,4030],"nice":false},"axis":null},"y2":{"datum":65}}},
{"data":{"name":"notes"},"transform":[{"filter":"datum.text == 'redshift space'"}],"mark":{"type":"text","font":"Liberation Serif","fontSize":53,"align":"left","baseline":"alphabetic","color":"black"},
 "encoding":{"x":{"field":"k","type":"quantitative","scale":{"type":"log","domain":[0.01,1],"nice":false},"axis":null},
 "y":{"field":"v","type":"quantitative","scale":{"type":"log","domain":[100,4030],"nice":false},"axis":null},"text":{"field":"text"}}},
{"data":{"name":"notes"},"transform":[{"filter":"datum.text == 'P'"}],"mark":{"type":"text","font":"Liberation Serif","fontStyle":"italic","fontSize":68,"align":"left","baseline":"alphabetic","color":"black"},
 "encoding":{"x":{"field":"k","type":"quantitative","scale":{"type":"log","domain":[0.01,1],"nice":false},"axis":null},
 "y":{"field":"v","type":"quantitative","scale":{"type":"log","domain":[100,4030],"nice":false},"axis":null},"text":{"field":"text"}}},
{"data":{"name":"notes"},"transform":[{"filter":"datum.text == '2'"}],"mark":{"type":"text","font":"Liberation Serif","fontSize":44,"align":"left","baseline":"alphabetic","color":"black","dx":38,"dy":15},
 "encoding":{"x":{"field":"k","type":"quantitative","scale":{"type":"log","domain":[0.01,1],"nice":false},"axis":null},
 "y":{"field":"v","type":"quantitative","scale":{"type":"log","domain":[100,4030],"nice":false},"axis":null},"text":{"field":"text"}}},
{"data":{"name":"notes"},"transform":[{"filter":"datum.text == ': quadrupole'"}],"mark":{"type":"text","font":"Liberation Serif","fontSize":72,"align":"left","baseline":"alphabetic","color":"black","dx":62},
 "encoding":{"x":{"field":"k","type":"quantitative","scale":{"type":"log","domain":[0.01,1],"nice":false},"axis":null},
 "y":{"field":"v","type":"quantitative","scale":{"type":"log","domain":[100,4030],"nice":false},"axis":null},"text":{"field":"text"}}}
],
"resolve": {"axis": {"x": "independent", "y": "independent"}}
}
